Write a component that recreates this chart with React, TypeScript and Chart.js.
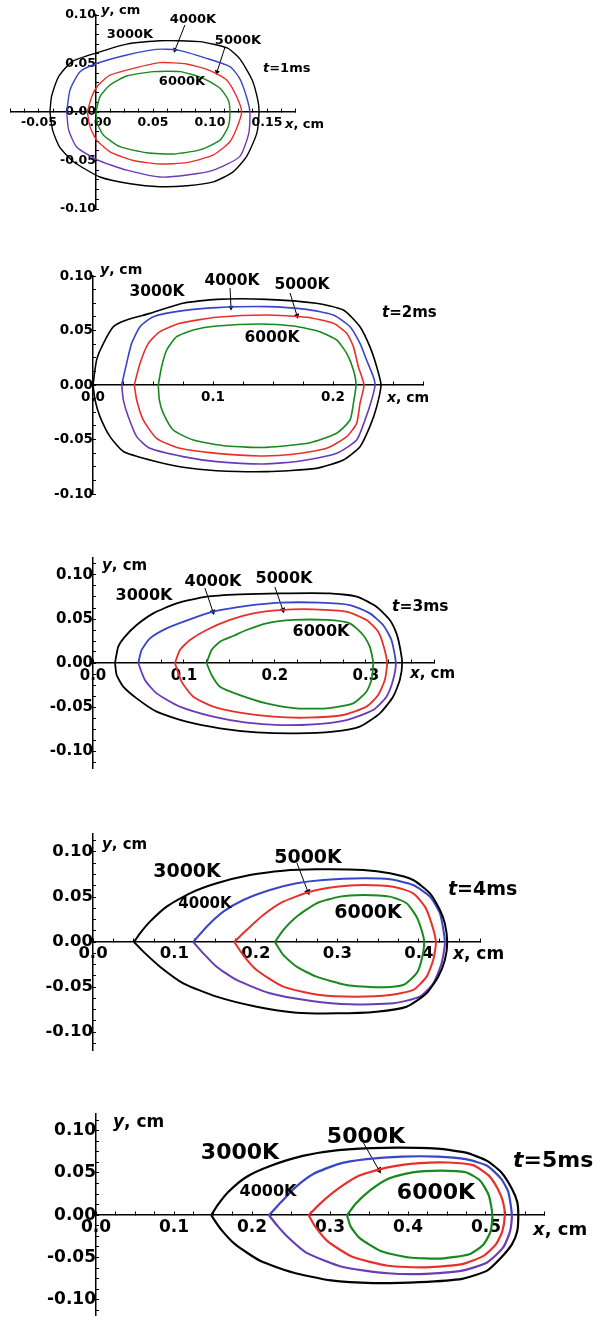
import React, { useEffect, useRef } from 'react';
import { Chart, registerables } from 'chart.js';

Chart.register(...registerables);

type Pt = [number, number];

// ---------------- data (x, cm ; y, cm) ----------------
// t = 1 ms
const p1_3000K: Pt[] = [[-0.0404,0],[-0.039,0.016],[-0.033,0.036],[-0.021,0.052],[0.0006,0.061],[0.027,0.07],[0.056,0.0735],[0.091,0.0725],[0.115,0.066],[0.126,0.055],[0.137,0.033],[0.142,0.012],[0.143,0],[0.141,-0.022],[0.132,-0.046],[0.12,-0.062],[0.103,-0.072],[0.08,-0.076],[0.056,-0.077],[0.03,-0.074],[0.0035,-0.067],[-0.02,-0.051],[-0.032,-0.036],[-0.038,-0.019],[-0.0404,0]];
const p1_4000K: Pt[] = [[-0.0257,0],[-0.0228,0.0227],[-0.014,0.0416],[0.0006,0.05],[0.027,0.0588],[0.053,0.0646],[0.071,0.064],[0.097,0.0553],[0.1175,0.0467],[0.126,0.0347],[0.132,0.0158],[0.135,0],[0.134,-0.022],[0.126,-0.046],[0.103,-0.06],[0.08,-0.065],[0.056,-0.067],[0.027,-0.06],[0.0006,-0.049],[-0.017,-0.036],[-0.024,-0.0186],[-0.0257,0]];
const p1_5000K: Pt[] = [[-0.0076,0],[-0.0038,0.0158],[0.002,0.0278],[0.0123,0.0381],[0.0327,0.045],[0.0561,0.0509],[0.0795,0.0495],[0.1,0.0426],[0.1146,0.033],[0.1234,0.0158],[0.1278,0],[0.1234,-0.0168],[0.1175,-0.0306],[0.103,-0.0443],[0.0795,-0.0522],[0.0561,-0.0536],[0.0327,-0.05],[0.0123,-0.041],[0.0006,-0.029],[-0.0053,-0.0151],[-0.0076,0]];
const p1_6000K: Pt[] = [[0,0],[0.0035,0.0158],[0.0123,0.0278],[0.0269,0.0371],[0.0503,0.0416],[0.0737,0.0416],[0.094,0.0347],[0.1088,0.0244],[0.116,0.0124],[0.1175,0],[0.116,-0.015],[0.1088,-0.029],[0.0912,-0.039],[0.0678,-0.0433],[0.0444,-0.042],[0.021,-0.0357],[0.0064,-0.0237],[0.0012,-0.0117],[0,0]];
const p1_arrow4000K: Pt[] = [[0.078,0.0897],[0.0693,0.064]];
const p1_arrow5000K: Pt[] = [[0.1132,0.067],[0.1061,0.0412]];

// t = 2 ms
const p2_3000K: Pt[] = [[0,0],[0.003,0.023],[0.0086,0.038],[0.017,0.0535],[0.028,0.0596],[0.0475,0.0657],[0.075,0.075],[0.103,0.0786],[0.1447,0.0786],[0.186,0.075],[0.2086,0.0688],[0.2225,0.0535],[0.2308,0.035],[0.2364,0.0168],[0.24,0],[0.2364,-0.0199],[0.2308,-0.038],[0.2225,-0.0566],[0.2086,-0.0688],[0.186,-0.0765],[0.1447,-0.0795],[0.103,-0.0786],[0.075,-0.0755],[0.0475,-0.0688],[0.0253,-0.061],[0.0142,-0.0474],[0.0058,-0.029],[0.0017,-0.0138],[0,0]];
const p2_4000K: Pt[] = [[0.0239,0],[0.028,0.0199],[0.0322,0.0382],[0.0392,0.0535],[0.0503,0.0627],[0.075,0.0682],[0.103,0.071],[0.1447,0.0719],[0.178,0.0694],[0.2003,0.0642],[0.2142,0.0535],[0.2225,0.0382],[0.228,0.0229],[0.2336,0.0076],[0.235,0],[0.2322,-0.0138],[0.2267,-0.032],[0.2197,-0.0505],[0.203,-0.0627],[0.1725,-0.0697],[0.142,-0.0725],[0.103,-0.0703],[0.075,-0.0657],[0.0475,-0.0581],[0.0364,-0.0474],[0.0294,-0.029],[0.0253,-0.0138],[0.0239,0]];
const p2_5000K: Pt[] = [[0.0344,0],[0.0392,0.0199],[0.0461,0.0382],[0.0558,0.0489],[0.0725,0.0566],[0.103,0.0621],[0.1447,0.0642],[0.178,0.0621],[0.2003,0.0566],[0.2114,0.0474],[0.217,0.0352],[0.2211,0.0168],[0.2258,0],[0.2225,-0.0168],[0.2197,-0.0352],[0.2114,-0.0474],[0.1947,-0.0581],[0.167,-0.0636],[0.139,-0.0651],[0.103,-0.0627],[0.0725,-0.0581],[0.053,-0.0489],[0.0419,-0.0321],[0.0364,-0.0138],[0.0344,0]];
const p2_6000K: Pt[] = [[0.0544,0],[0.0572,0.0168],[0.0614,0.0321],[0.0697,0.0443],[0.0836,0.0505],[0.103,0.0541],[0.139,0.056],[0.167,0.0541],[0.189,0.0489],[0.203,0.0413],[0.2114,0.029],[0.217,0.0138],[0.2192,0],[0.217,-0.0168],[0.2142,-0.0321],[0.203,-0.0443],[0.181,-0.0529],[0.1447,-0.0572],[0.1114,-0.056],[0.0836,-0.0505],[0.0669,-0.0413],[0.0586,-0.026],[0.0553,-0.0138],[0.0544,0]];
const p2_arrow4000K: Pt[] = [[0.1142,0.089],[0.115,0.0712]];
const p2_arrow5000K: Pt[] = [[0.1642,0.0844],[0.17,0.0636]];

// t = 3 ms
const p3_3000K: Pt[] = [[0.0242,0],[0.0278,0.0186],[0.0352,0.03],[0.048,0.0432],[0.0663,0.0564],[0.0919,0.0678],[0.125,0.0754],[0.1615,0.078],[0.2055,0.0792],[0.2604,0.0792],[0.29,0.0754],[0.3117,0.064],[0.3264,0.0489],[0.3337,0.0337],[0.3374,0.0186],[0.34,0],[0.3374,-0.0193],[0.33,-0.0383],[0.3154,-0.0572],[0.2934,-0.0723],[0.264,-0.078],[0.2238,-0.08],[0.18,-0.0788],[0.1396,-0.0742],[0.1029,-0.0667],[0.07,-0.0553],[0.048,-0.0402],[0.0333,-0.0269],[0.026,-0.0136],[0.0242,0]];
const p3_4000K: Pt[] = [[0.0498,0],[0.0535,0.0148],[0.0626,0.028],[0.081,0.0394],[0.1066,0.0496],[0.1322,0.0583],[0.1689,0.0648],[0.2055,0.0686],[0.2495,0.0686],[0.2824,0.0659],[0.3044,0.0564],[0.319,0.0432],[0.3282,0.0261],[0.333,0],[0.33,-0.0193],[0.3227,-0.0383],[0.308,-0.0534],[0.2788,-0.0648],[0.2421,-0.0697],[0.2055,-0.0705],[0.1689,-0.0678],[0.1322,-0.061],[0.0956,-0.0496],[0.07,-0.0345],[0.0571,-0.0193],[0.0498,0]];
const p3_5000K: Pt[] = [[0.0901,0],[0.0956,0.0148],[0.1066,0.0261],[0.1249,0.0375],[0.1505,0.0489],[0.1762,0.0564],[0.2055,0.0602],[0.2421,0.061],[0.2788,0.0583],[0.3007,0.0489],[0.3136,0.0356],[0.3198,0.0186],[0.3234,0],[0.3209,-0.0193],[0.3136,-0.0364],[0.3007,-0.0496],[0.2751,-0.0591],[0.2348,-0.0621],[0.1982,-0.061],[0.1615,-0.0564],[0.1322,-0.0496],[0.1103,-0.0383],[0.0974,-0.0212],[0.0901,0]];
const p3_6000K: Pt[] = [[0.1249,0],[0.1304,0.0148],[0.1396,0.0242],[0.1542,0.0307],[0.1689,0.0375],[0.1908,0.0451],[0.2201,0.0489],[0.2568,0.0489],[0.2824,0.0451],[0.2971,0.0318],[0.3044,0.0186],[0.3081,0],[0.3062,-0.0193],[0.3007,-0.0326],[0.2861,-0.0458],[0.2568,-0.0515],[0.2238,-0.0515],[0.1908,-0.0458],[0.1615,-0.0364],[0.1396,-0.0269],[0.1304,-0.0136],[0.1249,0]];
const p3_arrow4000K: Pt[] = [[0.1231,0.0852],[0.1319,0.0582]];
const p3_arrow5000K: Pt[] = [[0.2,0.0864],[0.2088,0.0604]];

// t = 4 ms
const p4_3000K: Pt[] = [[0.0503,0],[0.0577,0.0096],[0.0699,0.0226],[0.0904,0.0393],[0.119,0.0541],[0.1517,0.0652],[0.1926,0.0744],[0.2335,0.0793],[0.2744,0.0807],[0.3317,0.08],[0.3644,0.0763],[0.393,0.0689],[0.4135,0.0541],[0.4258,0.0356],[0.4319,0.0204],[0.4348,0],[0.4319,-0.02],[0.4237,-0.0385],[0.4094,-0.057],[0.3849,-0.0719],[0.348,-0.0774],[0.299,-0.0793],[0.2499,-0.0785],[0.2008,-0.0719],[0.1517,-0.0607],[0.1108,-0.0459],[0.0822,-0.0274],[0.0618,-0.0107],[0.0503,0]];
const p4_4000K: Pt[] = [[0.1231,0],[0.1395,0.017],[0.1599,0.0337],[0.1845,0.0467],[0.2172,0.0578],[0.2499,0.0652],[0.2826,0.0689],[0.3317,0.0707],[0.3644,0.0696],[0.393,0.0633],[0.4135,0.0504],[0.4258,0.0319],[0.4319,0],[0.4278,-0.0237],[0.4176,-0.0459],[0.4012,-0.0607],[0.3685,-0.0681],[0.3153,-0.0693],[0.2663,-0.0652],[0.2172,-0.057],[0.1763,-0.0422],[0.1517,-0.0274],[0.1354,-0.0126],[0.1231,0]];
const p4_5000K: Pt[] = [[0.1734,0],[0.1885,0.0133],[0.209,0.03],[0.2335,0.0448],[0.2663,0.0559],[0.299,0.0615],[0.3317,0.0633],[0.3685,0.0615],[0.393,0.0541],[0.4074,0.0393],[0.4155,0.0207],[0.4209,0],[0.4176,-0.02],[0.4094,-0.0385],[0.393,-0.0533],[0.3644,-0.0589],[0.3235,-0.0607],[0.2785,-0.0589],[0.2335,-0.0496],[0.2008,-0.0311],[0.1845,-0.0148],[0.1734,0]];
const p4_6000K: Pt[] = [[0.2233,0],[0.2335,0.0133],[0.2499,0.0281],[0.2744,0.043],[0.3031,0.0504],[0.3317,0.0522],[0.3644,0.0504],[0.3849,0.043],[0.3971,0.0281],[0.4033,0.0133],[0.4065,0],[0.4033,-0.02],[0.3971,-0.0348],[0.3808,-0.0478],[0.348,-0.0504],[0.3112,-0.0478],[0.2744,-0.0385],[0.2499,-0.0274],[0.2335,-0.0144],[0.2233,0]];
const p4_arrow5000K: Pt[] = [[0.2503,0.0878],[0.2638,0.0558]];

// t = 5 ms
const p5_3000K: Pt[] = [[0.1477,0],[0.1559,0.012],[0.1695,0.0275],[0.1923,0.045],[0.2241,0.0585],[0.265,0.0702],[0.3105,0.0771],[0.3695,0.0798],[0.4377,0.0787],[0.4741,0.074],[0.5014,0.0643],[0.5195,0.0508],[0.5332,0.0314],[0.54,0.0159],[0.5414,0],[0.54,-0.019],[0.5332,-0.0345],[0.5195,-0.05],[0.5014,-0.0655],[0.4695,-0.0752],[0.415,-0.0791],[0.3559,-0.0802],[0.3014,-0.0771],[0.2514,-0.0674],[0.2105,-0.0539],[0.1786,-0.0345],[0.1605,-0.017],[0.1477,0]];
const p5_4000K: Pt[] = [[0.2218,0],[0.2377,0.0159],[0.2559,0.0333],[0.2786,0.0488],[0.3105,0.0605],[0.3468,0.0663],[0.3923,0.0694],[0.4377,0.0694],[0.4741,0.0663],[0.5014,0.0585],[0.5195,0.043],[0.5286,0.0275],[0.5332,0],[0.5309,-0.019],[0.5218,-0.0384],[0.5014,-0.0558],[0.4695,-0.0655],[0.4241,-0.0694],[0.3741,-0.0686],[0.315,-0.0609],[0.2695,-0.0442],[0.2468,-0.0267],[0.2332,-0.0132],[0.2218,0]];
const p5_5000K: Pt[] = [[0.2727,0],[0.2877,0.014],[0.3105,0.0314],[0.3377,0.0469],[0.3741,0.0566],[0.415,0.0616],[0.4514,0.0624],[0.4832,0.0593],[0.5036,0.0469],[0.515,0.0314],[0.5218,0.0159],[0.5241,0],[0.5209,-0.019],[0.5127,-0.0345],[0.4968,-0.0481],[0.4695,-0.0578],[0.4241,-0.0616],[0.3741,-0.0597],[0.3286,-0.0492],[0.2968,-0.0306],[0.2809,-0.0132],[0.2727,0]];
const p5_6000K: Pt[] = [[0.3218,0],[0.3332,0.014],[0.3514,0.0295],[0.3741,0.043],[0.4059,0.0508],[0.4423,0.0527],[0.4741,0.0508],[0.4923,0.0411],[0.5036,0.0236],[0.5082,0],[0.5059,-0.019],[0.4968,-0.0345],[0.4786,-0.0461],[0.4423,-0.0512],[0.4014,-0.05],[0.365,-0.0422],[0.3377,-0.0267],[0.3264,-0.0132],[0.3218,0]];
const p5_arrow5000K: Pt[] = [[0.3426,0.086],[0.3627,0.0535]];

// ---------------- styles ----------------
const C3000 = '#000000';
const C4000 = '#3646c6';
const C4000LOW = '#6a3bb6';
const C5000 = '#e8302a';
const C6000 = '#17891d';
const FONT = '"DejaVu Sans", "Liberation Sans", sans-serif';

interface AxisSpec { min: number; max: number; step: number; major: number; dec: number; pad: number; }
interface LabelSpec { text: string; pre?: string; x: number; y: number; size: number; anchor: 'c' | 'l'; }
interface PanelSpec {
  top: number; height: number;
  area: { l: number; r: number; t: number; b: number };
  x: AxisSpec; y: AxisSpec;
  tickFont: number; lineW: number; arrowR: number;
  curves: { data: Pt[]; color: string; lower?: string }[];
  arrows: Pt[][];
  labels: LabelSpec[];
}

const PANELS: PanelSpec[] = [
  {
    top: 0, height: 235, area: { l: 10.5, r: 295.5, t: 15, b: 209 },
    x: { min: -0.075, max: 0.175, step: 0.0125, major: 0.05, dec: 2, pad: 7 },
    y: { min: -0.1, max: 0.1, step: 0.01, major: 0.05, dec: 2, pad: 11 },
    tickFont: 12.5, lineW: 1.4, arrowR: 3,
    curves: [
      { data: p1_3000K, color: C3000 }, { data: p1_4000K, color: C4000, lower: C4000LOW },
      { data: p1_5000K, color: C5000 }, { data: p1_6000K, color: C6000 },
    ],
    arrows: [p1_arrow4000K, p1_arrow5000K],
    labels: [
      { text: '3000K', x: 130, y: 32.5, size: 13, anchor: 'c' },
      { text: '4000K', x: 193, y: 17.5, size: 13, anchor: 'c' },
      { text: '5000K', x: 238, y: 39, size: 13, anchor: 'c' },
      { text: '6000K', x: 182, y: 80, size: 13, anchor: 'c' },
      { pre: 't', text: '=1ms', x: 263, y: 67, size: 13, anchor: 'l' },
      { pre: 'y', text: ', cm', x: 101, y: 9, size: 13, anchor: 'l' },
      { pre: 'x', text: ', cm', x: 285, y: 123, size: 13, anchor: 'l' },
    ],
  },
  {
    top: 255, height: 260, area: { l: 93, r: 423, t: 276, b: 494 },
    x: { min: 0, max: 0.275, step: 0.025, major: 0.1, dec: 1, pad: 8.5 },
    y: { min: -0.1, max: 0.1, step: 0.0125, major: 0.05, dec: 2, pad: 12 },
    tickFont: 13.5, lineW: 1.6, arrowR: 3.2,
    curves: [
      { data: p2_3000K, color: C3000 }, { data: p2_4000K, color: C4000, lower: C4000LOW },
      { data: p2_5000K, color: C5000 }, { data: p2_6000K, color: C6000 },
    ],
    arrows: [p2_arrow4000K, p2_arrow5000K],
    labels: [
      { text: '3000K', x: 157, y: 292, size: 15.5, anchor: 'c' },
      { text: '4000K', x: 232, y: 281, size: 15.5, anchor: 'c' },
      { text: '5000K', x: 302, y: 285, size: 15.5, anchor: 'c' },
      { text: '6000K', x: 272, y: 338, size: 15.5, anchor: 'c' },
      { pre: 't', text: '=2ms', x: 382, y: 312, size: 15, anchor: 'l' },
      { pre: 'y', text: ', cm', x: 100, y: 269, size: 14, anchor: 'l' },
      { pre: 'x', text: ', cm', x: 387, y: 397, size: 14, anchor: 'l' },
    ],
  },
  {
    top: 540, height: 250, area: { l: 93, r: 434, t: 557.4, b: 768.6 },
    x: { min: 0, max: 0.375, step: 0.025, major: 0.1, dec: 1, pad: 8 },
    y: { min: -0.12, max: 0.12, step: 0.0125, major: 0.05, dec: 2, pad: 9 },
    tickFont: 15, lineW: 1.8, arrowR: 3.5,
    curves: [
      { data: p3_3000K, color: C3000 }, { data: p3_4000K, color: C4000, lower: C4000LOW },
      { data: p3_5000K, color: C5000 }, { data: p3_6000K, color: C6000 },
    ],
    arrows: [p3_arrow4000K, p3_arrow5000K],
    labels: [
      { text: '3000K', x: 144, y: 595, size: 16, anchor: 'c' },
      { text: '4000K', x: 213, y: 581, size: 16, anchor: 'c' },
      { text: '5000K', x: 284, y: 578, size: 16, anchor: 'c' },
      { text: '6000K', x: 321, y: 631, size: 16, anchor: 'c' },
      { pre: 't', text: '=3ms', x: 392, y: 607, size: 15.5, anchor: 'l' },
      { pre: 'y', text: ', cm', x: 102, y: 565, size: 15, anchor: 'l' },
      { pre: 'x', text: ', cm', x: 410, y: 673, size: 15, anchor: 'l' },
    ],
  },
  {
    top: 815, height: 260, area: { l: 93, r: 480, t: 834, b: 1050 },
    x: { min: 0, max: 0.475, step: 0.025, major: 0.1, dec: 1, pad: 6 },
    y: { min: -0.12, max: 0.12, step: 0.0125, major: 0.05, dec: 2, pad: 9 },
    tickFont: 16.5, lineW: 2, arrowR: 3.8,
    curves: [
      { data: p4_3000K, color: C3000 }, { data: p4_4000K, color: C4000, lower: C4000LOW },
      { data: p4_5000K, color: C5000 }, { data: p4_6000K, color: C6000 },
    ],
    arrows: [p4_arrow5000K],
    labels: [
      { text: '3000K', x: 187, y: 870, size: 19, anchor: 'c' },
      { text: '4000K', x: 205, y: 903, size: 15, anchor: 'c' },
      { text: '5000K', x: 308, y: 856, size: 19, anchor: 'c' },
      { text: '6000K', x: 368, y: 911, size: 19, anchor: 'c' },
      { pre: 't', text: '=4ms', x: 448, y: 888, size: 19, anchor: 'l' },
      { pre: 'y', text: ', cm', x: 102, y: 844, size: 15, anchor: 'l' },
      { pre: 'x', text: ', cm', x: 453, y: 953, size: 17, anchor: 'l' },
    ],
  },
  {
    top: 1095, height: 224, area: { l: 96, r: 544.5, t: 1113.8, b: 1318.5 },
    x: { min: 0, max: 0.575, step: 0.025, major: 0.1, dec: 1, pad: 6 },
    y: { min: -0.118, max: 0.12, step: 0.0125, major: 0.05, dec: 2, pad: 11 },
    tickFont: 17, lineW: 2.2, arrowR: 4,
    curves: [
      { data: p5_3000K, color: C3000 }, { data: p5_4000K, color: C4000, lower: C4000LOW },
      { data: p5_5000K, color: C5000 }, { data: p5_6000K, color: C6000 },
    ],
    arrows: [p5_arrow5000K],
    labels: [
      { text: '3000K', x: 240, y: 1152, size: 22, anchor: 'c' },
      { text: '4000K', x: 268, y: 1191, size: 16, anchor: 'c' },
      { text: '5000K', x: 366, y: 1136, size: 22, anchor: 'c' },
      { text: '6000K', x: 436, y: 1192, size: 22, anchor: 'c' },
      { pre: 't', text: '=5ms', x: 513, y: 1160, size: 22, anchor: 'l' },
      { pre: 'y', text: ', cm', x: 113, y: 1121, size: 17, anchor: 'l' },
      { pre: 'x', text: ', cm', x: 533, y: 1229, size: 18, anchor: 'l' },
    ],
  },
];

// ---------------- chart construction ----------------
const tickFormatter = (major: number, dec: number) => (value: number | string) => {
  const v = Number(value);
  const k = Math.round(v / major);
  if (Math.abs(v - k * major) > major * 1e-3) return '';
  const r = k === 0 ? 0 : k * major;
  return r.toFixed(dec);
};

const zeroPad = (scale: any) => {
  scale.paddingLeft = 0;
  scale.paddingRight = 0;
  scale.paddingTop = 0;
  scale.paddingBottom = 0;
};

function axisOptions(a: AxisSpec, pos: any, font: number) {
  return {
    type: 'linear',
    min: a.min,
    max: a.max,
    position: pos,
    border: { display: true, color: '#000', width: 1.5 },
    grid: { display: true, drawOnChartArea: false, drawTicks: true, tickLength: -4, color: '#000', lineWidth: 1 },
    ticks: {
      stepSize: a.step,
      maxTicksLimit: 1000,
      autoSkip: false,
      includeBounds: false,
      maxRotation: 0,
      minRotation: 0,
      padding: a.pad,
      color: '#000',
      font: { family: FONT, weight: 'bold', size: font },
      callback: tickFormatter(a.major, a.dec),
    },
    afterFit: zeroPad,
  };
}

function buildConfig(p: PanelSpec): any {
  const datasets: any[] = p.curves.map((c) => ({
    data: c.data.map(([x, y]) => ({ x, y })),
    borderColor: c.color,
    borderWidth: p.lineW,
    pointRadius: 0,
    tension: 0.2,
    fill: false,
    segment: c.lower
      ? { borderColor: (ctx: any) => (ctx.p0.parsed.y < -1e-9 || ctx.p1.parsed.y < -1e-9 ? c.lower : undefined) }
      : undefined,
  }));
  p.arrows.forEach((a) => {
    datasets.push({
      data: a.map(([x, y]) => ({ x, y })),
      borderColor: '#000',
      borderWidth: 1,
      tension: 0,
      fill: false,
      pointStyle: 'triangle',
      pointRadius: (ctx: any) => (ctx.dataIndex === 1 ? p.arrowR : 0),
      pointBackgroundColor: '#000',
      pointBorderColor: '#000',
      pointBorderWidth: 0,
      pointRotation: (ctx: any) => {
        const ch = ctx.chart;
        const xs = ch.scales.x;
        const ys = ch.scales.y;
        const d = ctx.dataset.data;
        const dx = xs.getPixelForValue(d[1].x) - xs.getPixelForValue(d[0].x);
        const dy = ys.getPixelForValue(d[1].y) - ys.getPixelForValue(d[0].y);
        return (Math.atan2(dy, dx) * 180) / Math.PI + 90;
      },
    });
  });
  return {
    type: 'line',
    data: { datasets },
    options: {
      responsive: false,
      animation: false,
      events: [],
      layout: {
        padding: {
          left: p.area.l,
          right: 599 - p.area.r,
          top: p.area.t - p.top,
          bottom: p.top + p.height - p.area.b,
        },
      },
      plugins: { legend: { display: false }, tooltip: { enabled: false }, title: { display: false } },
      scales: {
        x: axisOptions(p.x, { y: 0 }, p.tickFont),
        y: axisOptions(p.y, { x: 0 }, p.tickFont),
      },
    },
  };
}

function Panel({ spec }: { spec: PanelSpec }) {
  const ref = useRef<HTMLCanvasElement>(null);
  useEffect(() => {
    const chart = new Chart(ref.current as HTMLCanvasElement, buildConfig(spec));
    return () => chart.destroy();
  }, [spec]);
  return (
    <>
      <canvas
        ref={ref}
        width={599}
        height={spec.height}
        style={{ position: 'absolute', left: 0, top: spec.top, width: 599, height: spec.height }}
      />
      {spec.labels.map((l, i) => (
        <div
          key={i}
          style={{
            position: 'absolute',
            left: l.x,
            top: l.y,
            transform: l.anchor === 'c' ? 'translate(-50%, -50%)' : 'translate(0, -50%)',
            fontFamily: FONT,
            fontWeight: 'bold',
            fontSize: l.size,
            lineHeight: 1,
            whiteSpace: 'nowrap',
            color: '#000',
          }}
        >
          {l.pre ? <i>{l.pre}</i> : null}
          {l.text}
        </div>
      ))}
    </>
  );
}

export default function App() {
  return (
    <div
      style={{
        position: 'absolute',
        left: 0,
        top: 0,
        width: 599,
        height: 1319,
        overflow: 'hidden',
        background: '#fff',
      }}
    >
      {PANELS.map((p, i) => (
        <Panel key={i} spec={p} />
      ))}
    </div>
  );
}
